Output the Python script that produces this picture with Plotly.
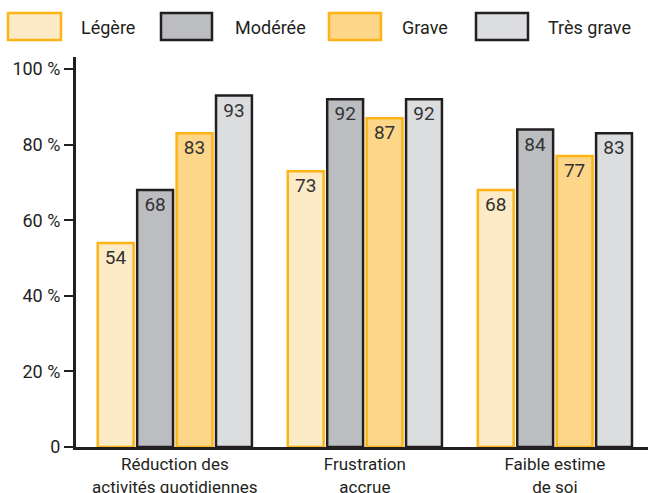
import plotly.graph_objects as go

categories = ["Réduction des<br>activités quotidiennes", "Frustration<br>accrue", "Faible estime<br>de soi"]
series_names = ["Légère", "Modérée", "Grave", "Très grave"]
legere = [54, 73, 68]
moderee = [68, 92, 84]
grave = [83, 87, 77]
tres_grave = [93, 92, 83]
tick_vals = [0, 20, 40, 60, 80, 100]
tick_text = ["0", "20 %", "40 %", "60 %", "80 %", "100 %"]

values = [legere, moderee, grave, tres_grave]
fills = ["#FDEAC6", "#BCBDC1", "#FDD68A", "#DCDDDF"]
borders = ["#FDB515", "#231F20", "#FDB515", "#231F20"]

FONT = "Roboto, Liberation Sans, sans-serif"
W, H = 648, 493
L, R, T, B = 76, 0, 57, 46
pw, ph = W - L - R, H - T - B

fig = go.Figure()
for name, vals, fc, bc in zip(series_names, values, fills, borders):
    fig.add_trace(go.Bar(
        name=name, x=categories, y=vals,
        marker=dict(color=fc, line=dict(color=bc, width=2.5)),
        text=[str(v) for v in vals], textposition="inside",
        insidetextanchor="end", textangle=0,
        textfont=dict(family=FONT, size=19, color="#333333"),
        showlegend=False,
    ))

def px_x(p):
    return (p - L) / pw

def px_y(p):
    return (H - B - p) / ph

# legend drawn manually (large swatches like the reference)
box_x = [(7, 62), (160, 213), (328, 382), (475, 529)]
text_x = [79, 233, 400, 546]
shapes = []
annotations = []
for (x0, x1), tx, name, fc, bc in zip(box_x, text_x, series_names, fills, borders):
    shapes.append(dict(type="rect", xref="paper", yref="paper",
                       x0=px_x(x0 + 1), x1=px_x(x1 - 1), y0=px_y(40), y1=px_y(13),
                       fillcolor=fc, line=dict(color=bc, width=2.5), layer="above"))
    annotations.append(dict(xref="paper", yref="paper", x=px_x(tx), y=px_y(27),
                            xanchor="left", yanchor="middle", text=name, showarrow=False,
                            font=dict(family=FONT, size=18, color="#231F20")))

fig.update_layout(
    width=W, height=H,
    margin=dict(l=L, r=R, t=T, b=B, autoexpand=False),
    paper_bgcolor="white", plot_bgcolor="white",
    barmode="group", bargap=0.17, bargroupgap=0.09,
    shapes=shapes, annotations=annotations,
    font=dict(family=FONT, color="#231F20"),
)
fig.update_xaxes(
    range=[-0.52, 2.49], showgrid=False, showline=True, linecolor="#231F20", linewidth=3,
    ticks="", tickfont=dict(family=FONT, size=17, color="#231F20"), fixedrange=True,
    automargin=False,
)
fig.update_yaxes(
    range=[0, 103.2], tickvals=tick_vals, ticktext=tick_text, showgrid=False, zeroline=False,
    showline=True, linecolor="#231F20", linewidth=3, ticks="outside", ticklen=9,
    tickwidth=1.5, tickcolor="#231F20",
    tickfont=dict(family=FONT, size=18, color="#231F20"), fixedrange=True,
    automargin=False,
)

fig.write_html("out.html", config={"displayModeBar": False},
               post_script="document.body.style.margin='0';document.body.style.overflow='hidden';")
